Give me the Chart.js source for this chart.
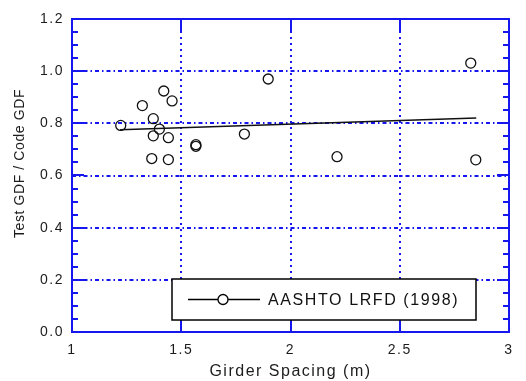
<!DOCTYPE html>
<html>
<head>
<meta charset="utf-8">
<script src="https://cdn.jsdelivr.net/npm/chart.js@4/dist/chart.umd.min.js"></script>
<style>
  html, body { margin: 0; padding: 0; background: #fff; }
  #wrap { width: 526px; height: 381px; }
</style>
</head>
<body>
<div id="wrap"><canvas id="gdfChart" width="526" height="381"></canvas></div>
<script>
// measured girder spacing (m) and test/code GDF ratio
var spacing = [1.223, 1.322, 1.420, 1.458, 1.372, 1.400, 1.372, 1.441, 1.365, 1.441,
  1.567, 1.567, 1.789, 1.898, 2.213, 2.825, 2.848];
var gdfRatio = [0.792, 0.868, 0.924, 0.886, 0.818, 0.778, 0.752, 0.745, 0.665, 0.661,
  0.712, 0.718, 0.759, 0.970, 0.672, 1.031, 0.660];

// trend line end points
var fitSpacing = [1.22, 2.85];
var fitRatio = [0.775, 0.82];

var xTicks = [1, 1.5, 2, 2.5, 3];
var yTicks = [0, 0.2, 0.4, 0.6, 0.8, 1.0, 1.2];
var yMinorStep = 0.05;
var seriesLabel = "AASHTO LRFD (1998)";
var yTitle = "Test GDF / Code GDF";

var BLUE = "rgb(22, 22, 238)";
var INK = "#1c1c1c";

function pairs(xs, ys) {
  return xs.map(function (x, i) {
    return { x: x, y: ys[i] };
  });
}

// grid, frame and inward ticks under the data; legend box and y title on top
var framePlugin = {
  id: "frame",
  beforeDraw: function (chart) {
    chart.ctx.letterSpacing = "1.5px";
  },
  beforeDatasetsDraw: function (chart) {
    var ctx = chart.ctx;
    var a = chart.chartArea;
    var xs = chart.scales.x;
    var ys = chart.scales.y;
    ctx.save();
    ctx.strokeStyle = BLUE;
    ctx.lineWidth = 2;

    // dash-dot horizontal grid
    ctx.setLineDash([4, 3, 1.5, 3]);
    yTicks.slice(1, -1).forEach(function (v) {
      var py = Math.round(ys.getPixelForValue(v));
      ctx.beginPath();
      ctx.moveTo(a.left, py);
      ctx.lineTo(a.right, py);
      ctx.stroke();
    });

    // dotted vertical grid
    ctx.setLineDash([2, 4]);
    xTicks.slice(1, -1).forEach(function (v) {
      var px = Math.round(xs.getPixelForValue(v));
      ctx.beginPath();
      ctx.moveTo(px, a.top);
      ctx.lineTo(px, a.bottom);
      ctx.stroke();
    });

    ctx.setLineDash([]);
    ctx.strokeRect(a.left, a.top, a.right - a.left, a.bottom - a.top);

    // y ticks on both sides, minor every 0.05
    ctx.beginPath();
    var n = Math.round(1.2 / yMinorStep);
    for (var k = 1; k < n; k++) {
      var py = Math.round(ys.getPixelForValue(k * yMinorStep));
      var len = k % 4 === 0 ? 12 : 6;
      ctx.moveTo(a.left, py);
      ctx.lineTo(a.left + len, py);
      ctx.moveTo(a.right, py);
      ctx.lineTo(a.right - len, py);
    }
    // x ticks top and bottom
    xTicks.slice(1, -1).forEach(function (v) {
      var px = Math.round(xs.getPixelForValue(v));
      ctx.moveTo(px, a.bottom);
      ctx.lineTo(px, a.bottom - 12);
      ctx.moveTo(px, a.top);
      ctx.lineTo(px, a.top + 12);
    });
    ctx.stroke();
    ctx.restore();
  },
  afterDatasetsDraw: function (chart) {
    var ctx = chart.ctx;
    var a = chart.chartArea;
    var bx = a.left + 100;
    var by = a.top + 260;
    var bw = 304;
    var bh = 41;
    ctx.save();
    ctx.fillStyle = "#fff";
    ctx.fillRect(bx, by, bw, bh);
    ctx.strokeStyle = "#000";
    ctx.lineWidth = 1.5;
    ctx.strokeRect(bx, by, bw, bh);

    var cy = by + 20.5;
    ctx.lineWidth = 1.3;
    ctx.beginPath();
    ctx.moveTo(bx + 16, cy);
    ctx.lineTo(bx + 88, cy);
    ctx.stroke();
    ctx.fillStyle = "#fff";
    ctx.beginPath();
    ctx.arc(bx + 51, cy, 5, 0, Math.PI * 2);
    ctx.fill();
    ctx.stroke();

    ctx.fillStyle = "#111";
    ctx.font = '16px "Liberation Sans", Arial, sans-serif';
    ctx.letterSpacing = "1.6px";
    ctx.textBaseline = "middle";
    ctx.textAlign = "left";
    ctx.fillText(seriesLabel, bx + 96, cy + 1);

    // rotated y-axis title, sitting a little above the plot middle
    ctx.translate(20, (a.top + a.bottom) / 2 - 12);
    ctx.rotate(-Math.PI / 2);
    ctx.fillStyle = INK;
    ctx.font = '14px "Liberation Sans", Arial, sans-serif';
    ctx.letterSpacing = "0.6px";
    ctx.textAlign = "center";
    ctx.fillText(yTitle, 0, 0);
    ctx.restore();
  }
};

Chart.defaults.font.family = '"Liberation Sans", Arial, sans-serif';
Chart.defaults.color = INK;

new Chart(document.getElementById("gdfChart"), {
  type: "scatter",
  data: {
    datasets: [
      {
        label: seriesLabel,
        data: pairs(spacing, gdfRatio),
        showLine: false,
        pointRadius: 5,
        pointHoverRadius: 5,
        pointBorderWidth: 1.3,
        pointBorderColor: "#111",
        pointBackgroundColor: "rgba(0,0,0,0)"
      },
      {
        label: "fit",
        data: pairs(fitSpacing, fitRatio),
        showLine: true,
        pointRadius: 0,
        borderColor: "#111",
        borderWidth: 1.5
      }
    ]
  },
  options: {
    responsive: false,
    animation: false,
    layout: { padding: { top: 19, right: 17, left: 0, bottom: 0 } },
    plugins: {
      legend: { display: false },
      tooltip: { enabled: false }
    },
    scales: {
      x: {
        type: "linear",
        min: 1,
        max: 3,
        afterFit: function (s) { s.height = 49; },
        afterBuildTicks: function (s) {
          s.ticks = xTicks.map(function (v) { return { value: v }; });
        },
        grid: { display: false },
        border: { display: false },
        ticks: {
          padding: 2,
          maxRotation: 0,
          font: { size: 14 },
          callback: function (v) { return String(v); }
        },
        title: {
          display: true,
          text: "Girder Spacing (m)",
          font: { size: 16 },
          padding: { top: 0, bottom: 0 }
        }
      },
      y: {
        min: 0,
        max: 1.2,
        afterFit: function (s) { s.width = 72; },
        afterBuildTicks: function (s) {
          s.ticks = yTicks.map(function (v) { return { value: v }; });
        },
        grid: { display: false },
        border: { display: false },
        ticks: {
          padding: 0,
          font: { size: 14 },
          callback: function (v) { return v.toFixed(1); }
        }
      }
    }
  },
  plugins: [framePlugin]
});
</script>
</body>
</html>
